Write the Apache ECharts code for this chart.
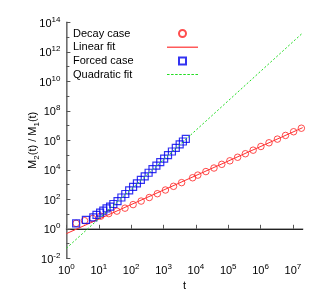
<!DOCTYPE html>
<html><head><meta charset="utf-8">
<script src="https://cdn.jsdelivr.net/npm/echarts@6/dist/echarts.min.js"></script>
<style>html,body{margin:0;padding:0;background:#fff}#c{width:332px;height:304px}</style>
</head><body><div id="c"></div>
<script>
// ---- data (real values, plotted on log10 scales) ----
const decayT = [2, 3.63, 6.46, 11.5, 20.4, 36.3, 64.6, 115, 204, 363, 646, 1148, 2042, 3631, 7943, 11482, 20417, 36308, 63096, 112202, 194984, 338844, 588844, 1023293, 1819701, 3311311, 5888437, 10471285, 18197009];
const decayY = [2.34, 3.55, 5.0, 7.2, 10.7, 15.8, 25.1, 43.7, 75.9, 132, 240, 427, 759, 1349, 2884, 4365, 7586, 13183, 23442, 40738, 70795, 123027, 213796, 380189, 676083, 1202264, 2137962, 3801894, 6606934];
const forcedT = [2, 4, 6.8, 8.5, 11, 13.8, 17.4, 22.4, 28.2, 38, 50, 66, 87, 115, 151, 200, 263, 347, 457, 603, 794, 1047, 1380, 1820, 2400, 3160, 3980, 4900];
const forcedY = [2.34, 4.0, 6.0, 8.7, 12.3, 17, 24.5, 31.6, 47.9, 75.9, 132, 229, 398, 692, 1202, 2089, 3631, 6310, 10965, 19055, 33113, 57544, 100000, 174000, 302000, 525000, 832000, 1260000];
const linearFitT = [1, 2e7];
const linearFitY = [0.47, 7.2e6];
const quadFitT = [1, 2e7];
const quadFitY = [0.048, 1.9e13];
const seriesNames = ['Decay case', 'Linear fit', 'Forced case', 'Quadratic fit'];
const xRange = [1, 2e7];
const yRange = [1e-2, 1e14];
const xTickStep = 1;   // decades
const yTickStep = 2;   // decades

const FONT = 'Liberation Sans, Arial, Helvetica, sans-serif';
const L = Math.log10;
const pts = (T, Y) => T.map((t, i) => [L(t), L(Y[i])]);

const powLabel = v => (Math.abs(v - Math.round(v)) < 1e-9) ? '{b|10}{s|' + Math.round(v) + '}' : '';
const powRich = {
  b: {fontSize: 11, fontFamily: FONT, color: '#000', verticalAlign: 'bottom'},
  s: {fontSize: 8, fontFamily: FONT, color: '#000', verticalAlign: 'top', padding: [0, 0, 6, 0]}
};

// legend icon paths
let dashPath = 'path://';
for (let i = 0; i < 31; i += 4) dashPath += 'M' + i + ',0H' + (i + 2.5) + 'V1H' + i + 'Z';
const solidPath = 'path://M0,0H31V1.2H0Z';
const squarePath = 'path://M0,0H10V10H0Z';

const chart = echarts.init(document.getElementById('c'), null, {renderer: 'canvas'});
chart.setOption({
  animation: false,
  backgroundColor: '#fff',
  grid: {left: 66.4, right: 29.3, top: 22.3, bottom: 45.7},
  legend: {
    orient: 'vertical', left: 73, top: 28, padding: 0, itemWidth: 31, itemHeight: 7, itemGap: 2.7,
    align: 'right', selectedMode: false,
    data: [
      {name: seriesNames[0], icon: 'circle'},
      {name: seriesNames[1], icon: solidPath, itemStyle: {borderWidth: 0}},
      {name: seriesNames[2], icon: squarePath},
      {name: seriesNames[3], icon: dashPath, itemStyle: {borderWidth: 0}}
    ],
    formatter: n => '{a|' + n + '}',
    textStyle: {fontFamily: FONT, fontSize: 11, color: '#000',
      rich: {a: {width: 89, align: 'left', fontSize: 11, fontFamily: FONT, color: '#000'}}}
  },
  xAxis: [{
    type: 'value', min: L(xRange[0]), max: L(xRange[1]), interval: xTickStep,
    name: 't', nameLocation: 'middle', nameGap: 22, nameMoveOverlap: false,
    nameTextStyle: {fontFamily: FONT, fontSize: 11, color: '#000'},
    axisLine: {lineStyle: {color: '#888', width: 1.5}},
    axisTick: {inside: true, length: 4, lineStyle: {color: '#555'}},
    minorTick: {show: false},
    splitLine: {show: false},
    axisLabel: {formatter: powLabel, rich: powRich, margin: 4, showMaxLabel: false}
  }, {
    type: 'value', position: 'top', min: L(xRange[0]), max: L(xRange[1]), interval: xTickStep,
    axisLine: {show: true, lineStyle: {color: '#222', width: 1}},
    axisTick: {show: false}, axisLabel: {show: false}, splitLine: {show: false}
  }],
  yAxis: [{
    type: 'value', min: L(yRange[0]), max: L(yRange[1]), interval: yTickStep,
    name: '{n|M}{s|2}{n|(t) / M}{s|1}{n|(t)}', nameLocation: 'middle', nameGap: 26, nameRotate: 90,
    nameMoveOverlap: false,
    nameTextStyle: {fontFamily: FONT, fontSize: 11, color: '#000',
      rich: {n: {fontSize: 11, fontFamily: FONT, color: '#000', verticalAlign: 'top'},
             s: {fontSize: 8, fontFamily: FONT, color: '#000', verticalAlign: 'bottom', padding: [5, 0, 0, 0]}}},
    axisLine: {show: true, lineStyle: {color: '#222', width: 1}},
    axisTick: {inside: true, length: 4, lineStyle: {color: '#555'}},
    minorTick: {show: true, splitNumber: 2, length: 3, lineStyle: {color: '#555'}},
    splitLine: {show: false},
    axisLabel: {formatter: powLabel, rich: powRich, margin: 6}
  }, {
    type: 'value', position: 'right', min: L(yRange[0]), max: L(yRange[1]), interval: yTickStep,
    axisLine: {show: true, lineStyle: {color: '#888', width: 1.5}},
    axisTick: {show: false}, axisLabel: {show: false}, splitLine: {show: false}
  }],
  series: [{
    name: seriesNames[0], type: 'scatter', data: pts(decayT, decayY),
    symbol: 'circle', symbolSize: 6.5, z: 3,
    itemStyle: {color: 'rgba(255,255,255,0)', borderColor: '#ff2020', borderWidth: 1}
  }, {
    name: seriesNames[1], type: 'line', data: pts(linearFitT, linearFitY),
    symbol: 'none', z: 4,
    lineStyle: {color: '#ff3030', width: 1}, itemStyle: {color: '#ff3030'}
  }, {
    name: seriesNames[2], type: 'scatter', data: pts(forcedT, forcedY),
    symbol: 'rect', symbolSize: 7, z: 5,
    itemStyle: {color: 'rgba(255,255,255,0)', borderColor: '#0000ee', borderWidth: 1.2}
  }, {
    name: seriesNames[3], type: 'line', data: pts(quadFitT, quadFitY),
    symbol: 'none', z: 6,
    lineStyle: {color: '#22dd22', width: 1, type: [2, 2]}, itemStyle: {color: '#22dd22'}
  }]
});
</script></body></html>
